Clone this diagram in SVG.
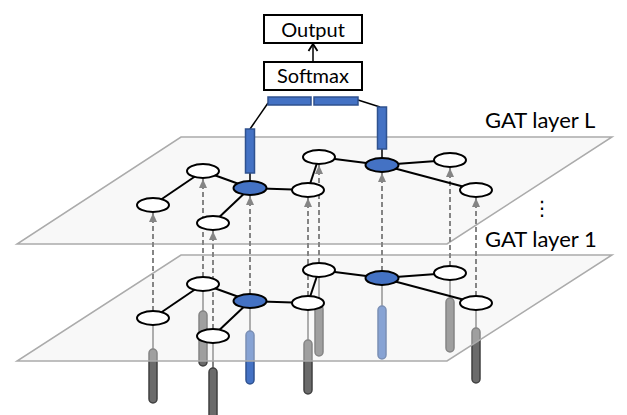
<svg xmlns="http://www.w3.org/2000/svg" width="627" height="415" viewBox="0 0 627 415">
<style>
  .plane-fill { fill: rgb(238,238,238); fill-opacity: 0.4; stroke: none; }
  .plane-edge { fill: none; stroke: #ababab; stroke-width: 1.5; }
  .bar-gray { fill: #6b6b6b; stroke: #404040; stroke-width: 1.5; }
  .bar-blue { fill: #4472c4; stroke: #2f528f; stroke-width: 1.5; }
  .stem { stroke: #5a5a5a; stroke-width: 1.5; }
  .dash { stroke: #858585; stroke-width: 2; stroke-dasharray: 5 3; fill: none; }
  .edge { stroke: #000; stroke-width: 2; fill: none; }
  .node { fill: #fff; stroke: #000; stroke-width: 2; }
  .node-blue { fill: #4472c4; stroke: #000; stroke-width: 2; }
  .feat { fill: #4472c4; stroke: #2f528f; stroke-width: 1.5; }
  .box { fill: #fff; stroke: #000; stroke-width: 2; }
  .lbl { font-family: Lato, "Liberation Sans", sans-serif; fill: #000; }
  .line { stroke: #000; stroke-width: 1.5; fill: none; }
</style>
<defs>
  <marker id="gray-arrow" markerUnits="userSpaceOnUse" markerWidth="10" markerHeight="10" viewBox="0 0 10 10" refX="9" refY="5" orient="auto">
    <path d="M0,1 L9,5 L0,9 Z" fill="#858585"/>
  </marker>
  <marker id="open-arrow" markerUnits="userSpaceOnUse" markerWidth="12" markerHeight="12" viewBox="0 0 12 12" refX="10" refY="6" orient="auto">
    <path d="M3,1.5 L10,6 L3,10.5" fill="none" stroke="#000" stroke-width="1.8"/>
  </marker>
</defs>

<!-- input feature bars under the bottom layer -->
<g id="input-features">
  <line class="stem" x1="153" y1="325" x2="153" y2="349"/>
  <rect class="bar-gray" x="149" y="349" width="8" height="54" rx="4"/>
  <line class="stem" x1="203" y1="291" x2="203" y2="311"/>
  <rect class="bar-gray" x="199" y="311" width="8" height="55" rx="4"/>
  <line class="stem" x1="213" y1="343" x2="213" y2="368"/>
  <rect class="bar-gray" x="209" y="368" width="8" height="60" rx="4"/>
  <line class="stem" x1="250" y1="308" x2="250" y2="331"/>
  <rect class="bar-blue" x="246" y="331" width="8" height="53" rx="4"/>
  <line class="stem" x1="308" y1="310" x2="308" y2="340"/>
  <rect class="bar-gray" x="304" y="340" width="8" height="54" rx="4"/>
  <line class="stem" x1="319" y1="277" x2="319" y2="305"/>
  <rect class="bar-gray" x="315" y="305" width="8" height="51" rx="4"/>
  <line class="stem" x1="382" y1="285" x2="382" y2="306"/>
  <rect class="bar-blue" x="378" y="306" width="8" height="53" rx="4"/>
  <line class="stem" x1="450" y1="280" x2="450" y2="298"/>
  <rect class="bar-gray" x="446" y="298" width="8" height="54" rx="4"/>
  <line class="stem" x1="476" y1="310" x2="476" y2="328"/>
  <rect class="bar-gray" x="472" y="328" width="8" height="55" rx="4"/>
</g>

<!-- planes -->
<g id="plane-1">
  <polygon class="plane-fill" points="181,255 612,255 447,361 17,361"/>
  <polygon class="plane-edge" points="181,255 612,255 447,361 17,361"/>
</g>
<g id="plane-L">
  <polygon class="plane-fill" points="181,137 612,137 447,244 17,244"/>
  <polygon class="plane-edge" points="181,137 612,137 447,244 17,244"/>
</g>

<!-- connectors -->
<g id="connectors">
  <!-- dashed arrows from layer 1 to layer L -->
  <line class="dash" x1="153" y1="311" x2="153" y2="213" marker-end="url(#gray-arrow)"/>
  <line class="dash" x1="203" y1="277" x2="203" y2="179" marker-end="url(#gray-arrow)"/>
  <line class="dash" x1="213" y1="329" x2="213" y2="231" marker-end="url(#gray-arrow)"/>
  <line class="dash" x1="250" y1="294" x2="250" y2="196" marker-end="url(#gray-arrow)"/>
  <line class="dash" x1="308" y1="296" x2="308" y2="198" marker-end="url(#gray-arrow)"/>
  <line class="dash" x1="319" y1="263" x2="319" y2="165" marker-end="url(#gray-arrow)"/>
  <line class="dash" x1="382" y1="271" x2="382" y2="173" marker-end="url(#gray-arrow)"/>
  <line class="dash" x1="450" y1="266" x2="450" y2="168" marker-end="url(#gray-arrow)"/>
  <line class="dash" x1="476" y1="296" x2="476" y2="198" marker-end="url(#gray-arrow)"/>

  <!-- graph edges, layer 1 -->
  <line class="edge" x1="153" y1="318" x2="203" y2="284"/>
  <line class="edge" x1="203" y1="284" x2="250" y2="301"/>
  <line class="edge" x1="250" y1="301" x2="213" y2="336"/>
  <line class="edge" x1="250" y1="301" x2="308" y2="303"/>
  <line class="edge" x1="308" y1="303" x2="319" y2="270"/>
  <line class="edge" x1="319" y1="270" x2="382" y2="278"/>
  <line class="edge" x1="382" y1="278" x2="450" y2="273"/>
  <line class="edge" x1="382" y1="278" x2="476" y2="303"/>

  <!-- graph edges, layer L -->
  <line class="edge" x1="153" y1="205" x2="203" y2="171"/>
  <line class="edge" x1="203" y1="171" x2="250" y2="188"/>
  <line class="edge" x1="250" y1="188" x2="213" y2="223"/>
  <line class="edge" x1="250" y1="188" x2="308" y2="190"/>
  <line class="edge" x1="308" y1="190" x2="319" y2="157"/>
  <line class="edge" x1="319" y1="157" x2="382" y2="165"/>
  <line class="edge" x1="382" y1="165" x2="450" y2="160"/>
  <line class="edge" x1="382" y1="165" x2="476" y2="190"/>

  <!-- readout connections -->
  <line class="line" x1="250" y1="173" x2="250" y2="181"/>
  <line class="line" x1="382" y1="149" x2="382" y2="158"/>
  <line class="line" x1="250" y1="129" x2="268" y2="103"/>
  <line class="line" x1="358" y1="100" x2="380" y2="107"/>
  <line class="line" x1="313" y1="62" x2="313" y2="44" marker-end="url(#open-arrow)"/>
</g>

<!-- layer 1 nodes -->
<g id="l1-nodes">
  <ellipse id="l1-b" class="node" cx="153" cy="318" rx="16" ry="7"/>
  <ellipse id="l1-a" class="node" cx="203" cy="284" rx="16" ry="7"/>
  <ellipse id="l1-c" class="node-blue" cx="250" cy="301" rx="16.5" ry="7"/>
  <ellipse id="l1-d" class="node" cx="213" cy="336" rx="16" ry="7"/>
  <ellipse id="l1-e" class="node" cx="308" cy="303" rx="16" ry="7"/>
  <ellipse id="l1-f" class="node" cx="319" cy="270" rx="16" ry="7"/>
  <ellipse id="l1-g" class="node-blue" cx="382" cy="278" rx="16.5" ry="7"/>
  <ellipse id="l1-h" class="node" cx="450" cy="273" rx="16" ry="7"/>
  <ellipse id="l1-i" class="node" cx="476" cy="303" rx="16" ry="7"/>
</g>

<!-- layer L nodes -->
<g id="lL-nodes">
  <ellipse id="lL-b" class="node" cx="153" cy="205" rx="16" ry="7"/>
  <ellipse id="lL-a" class="node" cx="203" cy="171" rx="16" ry="7"/>
  <ellipse id="lL-c" class="node-blue" cx="250" cy="188" rx="16.5" ry="7"/>
  <ellipse id="lL-d" class="node" cx="213" cy="223" rx="16" ry="7"/>
  <ellipse id="lL-e" class="node" cx="308" cy="190" rx="16" ry="7"/>
  <ellipse id="lL-f" class="node" cx="319" cy="157" rx="16" ry="7"/>
  <ellipse id="lL-g" class="node-blue" cx="382" cy="165" rx="16.5" ry="7"/>
  <ellipse id="lL-h" class="node" cx="450" cy="160" rx="16" ry="7"/>
  <ellipse id="lL-i" class="node" cx="476" cy="190" rx="16" ry="7"/>
</g>

<!-- readout feature vectors -->
<g id="readout">
  <rect class="feat" x="245.5" y="129" width="9" height="44"/>
  <rect class="feat" x="377.5" y="107" width="9" height="42"/>
  <rect class="feat" x="268" y="97" width="43" height="8"/>
  <rect class="feat" x="314" y="97" width="44" height="8"/>
</g>

<g id="softmax">
  <rect class="box" x="264" y="62" width="98" height="28"/>
  <text class="lbl" x="313" y="83" font-size="20" text-anchor="middle">Softmax</text>
</g>
<g id="output">
  <rect class="box" x="264" y="15" width="98" height="28"/>
  <text class="lbl" x="313" y="37" font-size="20" text-anchor="middle">Output</text>
</g>

<g id="labels">
  <text class="lbl" x="485" y="128" font-size="22">GAT layer L</text>
  <text class="lbl" x="485" y="247" font-size="22">GAT layer 1</text>
  <text x="542" y="215" font-size="20" text-anchor="middle" font-family="'DejaVu Sans', sans-serif">⋮</text>
</g>
</svg>
